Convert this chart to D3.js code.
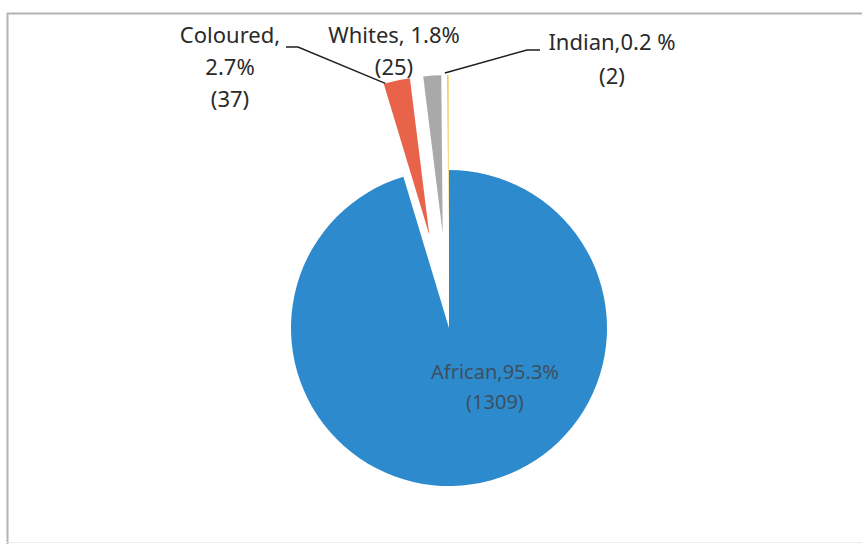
<!DOCTYPE html>
<html>
    <head>
        <script src="https://d3js.org/d3.v7.min.js"></script>
        <style>
            body { margin: 0; background: #fff; }
        </style>
    </head>
    <body>
        <div id="chart"></div>
        <script>
            // data
            const groups = ["African", "Coloured", "Whites", "Indian"]
            const counts = [1309, 37, 25, 2]
            const percents = ["95.3%", "2.7%", "1.8%", "0.2 %"]

            const colors = ["#2d8bcd", "#e8634a", "#a9a9a9", "#f2c232"]

            width = 862
            height = 544
            cx = 449
            cy = 328
            radius = 158
            explode = [0, 95, 95, 95]

            const svg = d3.select("#chart")
                .append("svg")
                .attr("width", width)
                .attr("height", height)

            // chart frame
            svg.append("path")
                .attr("d", `M7.5,${height} V13.5 H${width}`)
                .attr("fill", "none")
                .attr("stroke", "#b4b4b4")
                .attr("stroke-width", 2)
            svg.append("line")
                .attr("x1", 7).attr("x2", width)
                .attr("y1", 542.5).attr("y2", 542.5)
                .attr("stroke", "#ececec")

            const pie = d3.pie().sort(null).startAngle(0).endAngle(2 * Math.PI)
            const arcs = pie(counts)

            const arc = d3.arc().innerRadius(0).outerRadius(radius)

            function shift(d, i) {
                const mid = (d.startAngle + d.endAngle) / 2
                return [Math.sin(mid) * explode[i], -Math.cos(mid) * explode[i]]
            }

            const g = svg.append("g").attr("transform", `translate(${cx},${cy})`)

            g.selectAll("path.slice")
                .data(arcs)
                .join("path")
                .attr("class", "slice")
                .attr("fill", (d, i) => colors[i])
                .attr("transform", (d, i) => `translate(${shift(d, i)})`)
                .attr("d", arc)

            // outer point of a slice at a given angle
            function rim(d, i, a) {
                const s = shift(d, i)
                return [cx + s[0] + Math.sin(a) * radius, cy + s[1] - Math.cos(a) * radius]
            }

            // label layout (text anchors, line spacing)
            const lh = 32
            const labelFont = "'Noto Sans', 'Open Sans', sans-serif"

            // Coloured: three lines
            const colLines = [groups[1] + ",", percents[1], `(${counts[1]})`]
            svg.append("g").selectAll("text")
                .data(colLines)
                .join("text")
                .attr("x", 230)
                .attr("y", (d, i) => 43 + i * lh)
                .attr("text-anchor", "middle")
                .attr("font-family", labelFont)
                .attr("font-size", 22)
                .attr("fill", "#2a2a2a")
                .text(d => d)

            // Whites: two lines
            const whLines = [`${groups[2]}, ${percents[2]}`, `(${counts[2]})`]
            svg.append("g").selectAll("text")
                .data(whLines)
                .join("text")
                .attr("x", 394)
                .attr("y", (d, i) => 43 + i * lh)
                .attr("text-anchor", "middle")
                .attr("font-family", labelFont)
                .attr("font-size", 22)
                .attr("fill", "#2a2a2a")
                .text(d => d)

            // Indian: two lines
            const inLines = [`${groups[3]},${percents[3]}`, `(${counts[3]})`]
            svg.append("g").selectAll("text")
                .data(inLines)
                .join("text")
                .attr("x", 612)
                .attr("y", (d, i) => 50 + i * 34)
                .attr("text-anchor", "middle")
                .attr("font-family", labelFont)
                .attr("font-size", 22)
                .attr("fill", "#2a2a2a")
                .text(d => d)

            // African inside label
            const afLines = [`${groups[0]},${percents[0]}`, `(${counts[0]})`]
            svg.append("g").selectAll("text")
                .data(afLines)
                .join("text")
                .attr("x", 495)
                .attr("y", (d, i) => 379 + i * 30)
                .attr("text-anchor", "middle")
                .attr("font-family", labelFont)
                .attr("font-size", 20)
                .attr("fill", "#3d4f60")
                .text(d => d)

            // leader lines
            const line = d3.line()
            const cEnd = rim(arcs[1], 1, arcs[1].startAngle + 0.01)
            const iEnd = rim(arcs[3], 3, (arcs[3].startAngle + arcs[3].endAngle) / 2)
            const leaders = [
                [[286, 47], [298, 47], cEnd],
                [[540, 50], [527, 50], [iEnd[0] - 3, iEnd[1] - 2]]
            ]
            svg.append("g").selectAll("path")
                .data(leaders)
                .join("path")
                .attr("d", line)
                .attr("fill", "none")
                .attr("stroke", "#1e1e1e")
                .attr("stroke-width", 1.4)
        </script>
    </body>
</html>
